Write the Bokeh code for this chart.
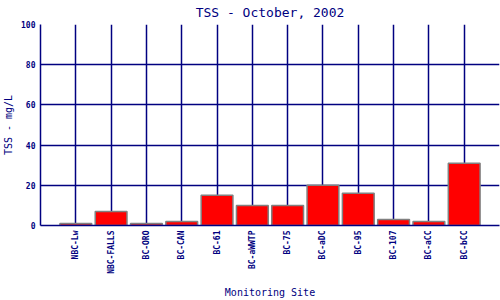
from bokeh.plotting import figure
from bokeh.models import ColumnDataSource, FixedTicker, Range1d
from bokeh.embed import file_html
from bokeh.resources import INLINE

sites = ["NBC-Lw", "NBC-FALLS", "BC-ORO", "BC-CAN", "BC-61", "BC-aWWTP",
         "BC-75", "BC-aDC", "BC-95", "BC-107", "BC-aCC", "BC-bCC"]
tss = [1, 7, 1, 2, 15, 10, 10, 20, 16, 3, 2, 31]
y_ticks = [0, 20, 40, 60, 80, 100]

navy = "#000080"
xs = list(range(1, len(sites) + 1))
src = ColumnDataSource(dict(x=xs, top=tss, site=sites))

p = figure(width=500, height=300, output_backend="svg", toolbar_location=None,
           x_range=Range1d(0, len(sites) + 1), y_range=Range1d(0, 100),
           min_border_left=40, min_border_right=1, min_border_top=24,
           min_border_bottom=75, title="TSS - October, 2002")

p.vbar(x="x", top="top", bottom=0, width=0.9, source=src,
       fill_color="#ff0000", line_color="#808080", line_width=1.5)

p.title.align = "center"
p.title.vertical_align = "top"
p.title.text_color = navy
p.title.text_font = "DejaVu Sans Mono"
p.title.text_font_size = "13px"
p.title.text_font_style = "normal"
p.title.offset = 0
p.title.standoff = 6

p.outline_line_color = None
p.background_fill_color = "white"
p.border_fill_color = "white"

p.xaxis.ticker = FixedTicker(ticks=xs)
p.xaxis.major_label_overrides = {x: s for x, s in zip(xs, sites)}
p.xaxis.major_label_orientation = 1.5708
p.yaxis.ticker = FixedTicker(ticks=y_ticks)

for ax in (p.xaxis[0], p.yaxis[0]):
    ax.axis_line_color = navy
    ax.axis_line_width = 1.5
    ax.major_tick_line_color = None
    ax.minor_tick_line_color = None
    ax.major_tick_out = 0
    ax.major_tick_in = 0
    ax.minor_tick_out = 0
    ax.minor_tick_in = 0
    ax.major_label_text_color = navy
    ax.major_label_text_font = "DejaVu Sans Mono"
    ax.major_label_text_font_size = "8px"
    ax.major_label_text_font_style = "bold"
    ax.major_label_standoff = 5
    ax.axis_label_text_color = navy
    ax.axis_label_text_font = "DejaVu Sans Mono"
    ax.axis_label_text_font_size = "10px"
    ax.axis_label_text_font_style = "normal"

p.xaxis.axis_label = "Monitoring Site"
p.yaxis.axis_label = "TSS - mg/L"
p.xaxis.axis_label_standoff = 10
p.yaxis.axis_label_standoff = 4

p.grid.grid_line_color = navy
p.grid.grid_line_width = 1.5
p.grid.grid_line_alpha = 1.0

open("out.html", "w").write(file_html(p, INLINE))
